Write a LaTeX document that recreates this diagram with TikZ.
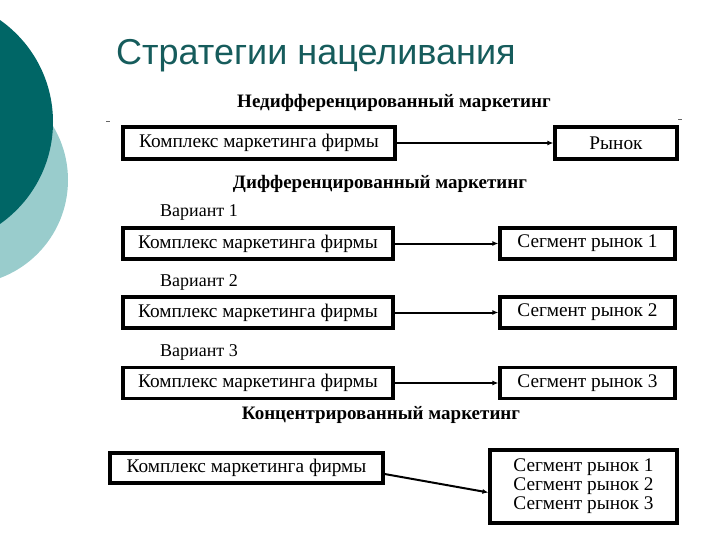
\documentclass[tikz,border=0pt]{standalone}
\usepackage{fontspec}
\setmainfont{Liberation Serif}
\newfontfamily\titlefont{Liberation Sans}
\usetikzlibrary{arrows.meta}
\definecolor{tealdark}{RGB}{0,102,102}
\definecolor{teallight}{RGB}{153,204,204}
\definecolor{titleteal}{RGB}{22,92,92}
\tikzset{
  box/.style={draw=black, line width=3.2pt, fill=white, inner sep=0pt, font=\fontsize{19.3}{19}\selectfont},
  head/.style={font=\bfseries\fontsize{19}{21}\selectfont, inner sep=0pt},
  var/.style={font=\fontsize{18}{20}\selectfont, inner sep=0pt, anchor=west},
  arr/.style={line width=2pt, -{Latex[length=6pt,width=5pt]}},
  tick/.style={line width=0.6pt, black!60}
}
\begin{document}
\begin{tikzpicture}[x=1pt,y=-1pt]
\useasboundingbox (0,0) rectangle (720,540);
\begin{scope}
\clip (0,0) rectangle (720,540);
\fill[teallight] (-36.6,180) circle (104.6);
\fill[tealdark] (-71.6,122) circle (124.6);
\end{scope}
\node[anchor=west, inner sep=0pt, text=titleteal, font=\titlefont\fontsize{36}{40}\selectfont] (title) at (116,56) {Стратегии нацеливания};

\node[head] (h1) at (394,103) {Недифференцированный маркетинг};
\draw[tick] (106,121) -- (110,121);
\draw[tick] (678,119) -- (682,119);
\node[box, minimum width=272pt, minimum height=32pt] (a1) at (259,143) {Комплекс маркетинга фирмы};
\node[box, minimum width=122pt, minimum height=32pt] (m1) at (616,143) {Рынок};
\draw[arr] (a1) -- (m1);

\node[head] (h2) at (380,184) {Дифференцированный маркетинг};
\node[var] (v1) at (160,212) {Вариант 1};
\node[box, minimum width=270pt, minimum height=31pt] (a2) at (258,243.5) {Комплекс маркетинга фирмы};
\node[box, minimum width=175pt, minimum height=31pt] (s1) at (587.5,243.5) {Сегмент рынок 1};
\draw[arr] (a2) -- (s1);

\node[var] (v2) at (160,282) {Вариант 2};
\node[box, minimum width=270pt, minimum height=31pt] (a3) at (258,312.5) {Комплекс маркетинга фирмы};
\node[box, minimum width=175pt, minimum height=31pt] (s2) at (587.5,312.5) {Сегмент рынок 2};
\draw[arr] (a3) -- (s2);

\node[var] (v3) at (160,352) {Вариант 3};
\node[box, minimum width=270pt, minimum height=31pt] (a4) at (258,383) {Комплекс маркетинга фирмы};
\node[box, minimum width=175pt, minimum height=31pt] (s3) at (587.5,383) {Сегмент рынок 3};
\draw[arr] (a4) -- (s3);

\node[head] (h3) at (381,415) {Концентрированный маркетинг};
\node[box, minimum width=273pt, minimum height=30pt] (a5) at (246.5,468) {Комплекс маркетинга фирмы};
\node[box, minimum width=187pt, minimum height=73pt, align=left] (s4) at (583.5,486.5) {Сегмент рынок 1\\Сегмент рынок 2\\Сегмент рынок 3};
\draw[arr] ([yshift=-6pt]a5.east) -- ([yshift=-6pt]s4.west);
\end{tikzpicture}
\end{document}
